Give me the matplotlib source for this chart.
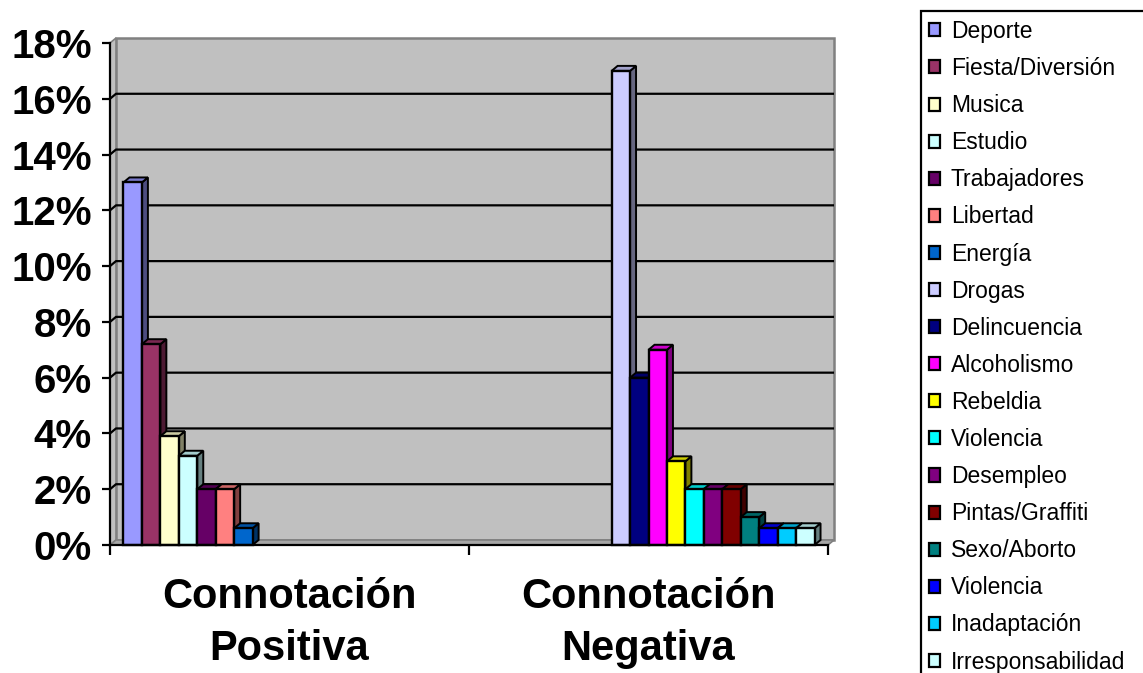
import matplotlib
matplotlib.use('Agg')
import matplotlib.pyplot as plt
from matplotlib.patches import Polygon, Rectangle, Patch
import matplotlib.colors as mcolors
import numpy as np

plt.rcParams['font.family'] = ['Liberation Sans', 'DejaVu Sans']

# ---------------- data ----------------
categories = ['Connotación\nPositiva', 'Connotación\nNegativa']
series_names = ['Deporte', 'Fiesta/Diversión', 'Musica', 'Estudio', 'Trabajadores',
                'Libertad', 'Energía', 'Drogas', 'Delincuencia', 'Alcoholismo',
                'Rebeldia', 'Violencia', 'Desempleo', 'Pintas/Graffiti',
                'Sexo/Aborto', 'Violencia', 'Inadaptación', 'Irresponsabilidad']
positive_values = [13.0, 7.2, 3.9, 3.2, 2.0, 2.0, 0.6,
                   None, None, None, None, None, None, None, None, None, None, None]
negative_values = [None, None, None, None, None, None, None,
                   17.0, 6.0, 7.0, 3.0, 2.0, 2.0, 2.0, 1.0, 0.6, 0.6, 0.6]
series_colors = ['#9999FF', '#993366', '#FFFFCC', '#CCFFFF', '#660066', '#FF8080',
                 '#0066CC', '#CCCCFF', '#000080', '#FF00FF', '#FFFF00', '#00FFFF',
                 '#800080', '#800000', '#008080', '#0000FF', '#00CCFF', '#CCFFFF']
yticks = [0, 2, 4, 6, 8, 10, 12, 14, 16, 18]
ytick_labels = ['0%', '2%', '4%', '6%', '8%', '10%', '12%', '14%', '16%', '18%']

# ---------------- layout ----------------
W, H = 1143, 673
fig = plt.figure(figsize=(W / 100, H / 100), dpi=100)
ax_left, ax_right, ax_top, ax_bottom = 110, 828, 43, 545
ax = fig.add_axes([ax_left / W, (H - ax_bottom) / H,
                   (ax_right - ax_left) / W, (ax_bottom - ax_top) / H])
x0, x1 = -0.5, 1.5
ax.set_xlim(x0, x1)
ax.set_ylim(0, 18)
ax.patch.set_visible(False)

DX, DY = 6, 5  # depth in pixels
dxd = DX * (x1 - x0) / (ax_right - ax_left)
dyd = DY * 18 / (ax_bottom - ax_top)

wall_fc = '#C0C0C0'
wall_ec = '#808080'
# back wall
ax.add_patch(Polygon([(x0 + dxd, dyd), (x1 + dxd, dyd), (x1 + dxd, 18 + dyd), (x0 + dxd, 18 + dyd)],
                     closed=True, fc=wall_fc, ec=wall_ec, lw=1.8, clip_on=False, zorder=0))
# side wall
ax.add_patch(Polygon([(x0, 0), (x0 + dxd, dyd), (x0 + dxd, 18 + dyd), (x0, 18)],
                     closed=True, fc=wall_fc, ec=wall_ec, lw=1.2, clip_on=False, zorder=0.5))
# floor
ax.add_patch(Polygon([(x0, 0), (x1, 0), (x1 + dxd, dyd), (x0 + dxd, dyd)],
                     closed=True, fc='#A6A6A6', ec=wall_ec, lw=1.2, clip_on=False, zorder=0.5))
# gridlines
for t in yticks[1:-1]:
    ax.plot([x0, x0 + dxd, x1 + dxd], [t, t + dyd, t + dyd], color='black', lw=1.6,
            clip_on=False, zorder=1, solid_capstyle='butt')


def shade(c, f):
    r, g, b = mcolors.to_rgb(c)
    return (r * f, g * f, b * f)


group_w = 0.925
n = len(series_names)
w = group_w / n
for ci, vals in enumerate([positive_values, negative_values]):
    for i, v in enumerate(vals):
        if v is None:
            continue
        xl = ci - group_w / 2 + i * w
        z = 3 + i * 0.05
        col = series_colors[i]
        # side face
        ax.add_patch(Polygon([(xl + w, 0), (xl + w + dxd, dyd), (xl + w + dxd, v + dyd), (xl + w, v)],
                             closed=True, fc=shade(col, 0.5), ec='black', lw=1.4,
                             clip_on=False, zorder=z, joinstyle='miter'))
        # top face
        ax.add_patch(Polygon([(xl, v), (xl + w, v), (xl + w + dxd, v + dyd), (xl + dxd, v + dyd)],
                             closed=True, fc=shade(col, 0.8), ec='black', lw=1.4,
                             clip_on=False, zorder=z, joinstyle='miter'))
        # front face
        ax.bar(xl, v, width=w, align='edge', color=col, edgecolor='black', lw=1.7,
               zorder=z + 0.01, clip_on=False)

# axes styling
for s in ['top', 'right']:
    ax.spines[s].set_visible(False)
for s in ['left', 'bottom']:
    ax.spines[s].set_linewidth(1.6)
    ax.spines[s].set_zorder(10)
ax.set_yticks(yticks)
ax.set_yticklabels(ytick_labels, fontsize=29, fontweight='bold')
ax.tick_params(axis='y', direction='out', length=6, width=1.6, pad=7)
ax.set_xticks([-0.5, 0.5, 1.5])
ax.set_xticklabels(['', '', ''])
ax.tick_params(axis='x', which='major', direction='out', length=7, width=1.6)
ax.set_xticks([0, 1], minor=True)
ax.set_xticklabels(categories, minor=True, fontsize=30, fontweight='bold', linespacing=1.38)
ax.tick_params(axis='x', which='minor', length=0, pad=23)

# legend
handles = [Patch(facecolor=c, edgecolor='black', lw=1.6) for c in series_colors]
fig.legend(handles, series_names, loc='upper left',
           bbox_to_anchor=(929 / W, 1 - 20 / H), bbox_transform=fig.transFigure,
           frameon=False, fontsize=16.5, borderpad=0, borderaxespad=0,
           handlelength=0.5, handleheight=0.5, handletextpad=0.45, labelspacing=0.615)
fig.add_artist(Rectangle((921 / W, -0.1), 0.5, 1.1 - 11 / H, transform=fig.transFigure,
                         fill=False, ec='black', lw=1.6))

fig.savefig('out.png', dpi=100)
